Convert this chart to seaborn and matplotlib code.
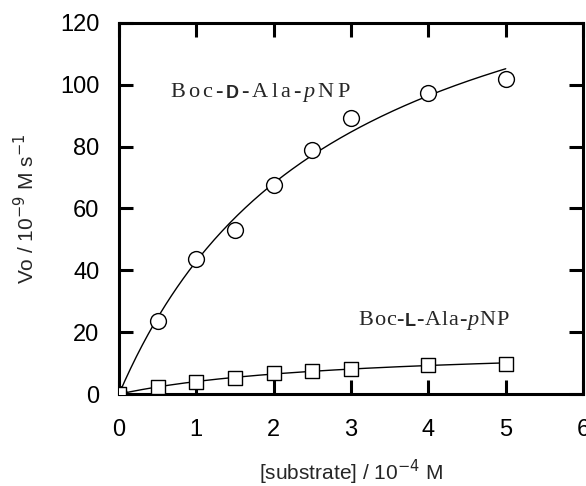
import numpy as np
import pandas as pd
import matplotlib
matplotlib.use("Agg")
import matplotlib.pyplot as plt
import seaborn as sns

# data
substrate = [0, 0.5, 1, 1.5, 2, 2.5, 3, 4, 5]
vo_D = [0, 23.7, 43.6, 53.1, 67.6, 79.0, 89.2, 97.3, 101.9]
vo_L = [0, 2.4, 4.0, 5.1, 6.7, 7.5, 8.2, 9.4, 9.9]
xticks = [0, 1, 2, 3, 4, 5, 6]
yticks = [0, 20, 40, 60, 80, 100, 120]


# Michaelis-Menten fit (grid over Km, linear least squares for Vmax)
def mm_fit(s, v):
    s = np.asarray(s, float)
    v = np.asarray(v, float)
    best = None
    for km in np.linspace(0.1, 20, 2000):
        f = s / (km + s)
        vmax = (f @ v) / (f @ f)
        err = np.sum((v - vmax * f) ** 2)
        if best is None or err < best[0]:
            best = (err, vmax, km)
    return best[1], best[2]


sns.set_theme(style="ticks")
plt.rcParams['font.family'] = ['Liberation Sans', 'DejaVu Sans']

df = pd.DataFrame({'s': substrate, 'D': vo_D, 'L': vo_L})
s_fine = np.linspace(0, 5, 200)
vD, kD = mm_fit(substrate, vo_D)
vL, kL = mm_fit(substrate, vo_L)
fit = pd.DataFrame({'s': s_fine,
                    'D': vD * s_fine / (kD + s_fine),
                    'L': vL * s_fine / (kL + s_fine)})

fig = plt.figure(figsize=(5.86, 4.86), dpi=100)
ax = fig.add_axes([0.203, 0.189, 0.792, 0.764])

sns.lineplot(data=fit, x='s', y='D', color='black', lw=1.0, ax=ax)
sns.lineplot(data=fit, x='s', y='L', color='black', lw=1.0, ax=ax)
sns.scatterplot(data=df, x='s', y='D', marker='o', s=130, facecolor='white',
                edgecolor='black', linewidth=1.0, ax=ax, zorder=3)
sns.scatterplot(data=df, x='s', y='L', marker='s', s=90, facecolor='white',
                edgecolor='black', linewidth=1.0, ax=ax, zorder=3)

ax.set_xlim(0, 6)
ax.set_ylim(0, 120)
ax.set_xticks(xticks)
ax.set_yticks(yticks)
ax.tick_params(direction='in', length=10, width=2.2, labelsize=17,
               top=True, right=True, colors='black')
ax.tick_params(axis='x', pad=18)
ax.tick_params(axis='y', pad=14)
for sp in ax.spines.values():
    sp.set_linewidth(2.2)
    sp.set_color('black')
    sp.set_visible(True)

ax.set_xlabel('[substrate] / 10$^{-4}$ M', fontsize=15, labelpad=12)
ax.set_ylabel('Vo / 10$^{-9}$ M s$^{-1}$', fontsize=15, labelpad=16)


# compound labels built character by character (the D one is letter-spaced)
def compound(x, y, letter, gap):
    pieces = [("Boc-", dict(family='Liberation Serif')),
              (letter, dict(family='Liberation Sans', weight='bold', size=13)),
              ("-Ala-", dict(family='Liberation Serif')),
              ("p", dict(family='Liberation Serif', style='italic')),
              ("NP", dict(family='Liberation Serif'))]
    prev = None
    for txt, kw in pieces:
        for ch in txt:
            style = dict(kw)
            style.setdefault('size', 16)
            if prev is None:
                prev = ax.text(x, y, ch, ha='left', va='baseline', **style)
            else:
                prev = ax.annotate(ch, xy=(1, 0), xycoords=prev,
                                   xytext=(gap, 0), textcoords='offset points',
                                   ha='left', va='bottom', **style)


compound(0.66, 96, 'D', 2.2)
compound(3.09, 22.5, 'L', 0.6)

fig.savefig('out.png', dpi=100)
